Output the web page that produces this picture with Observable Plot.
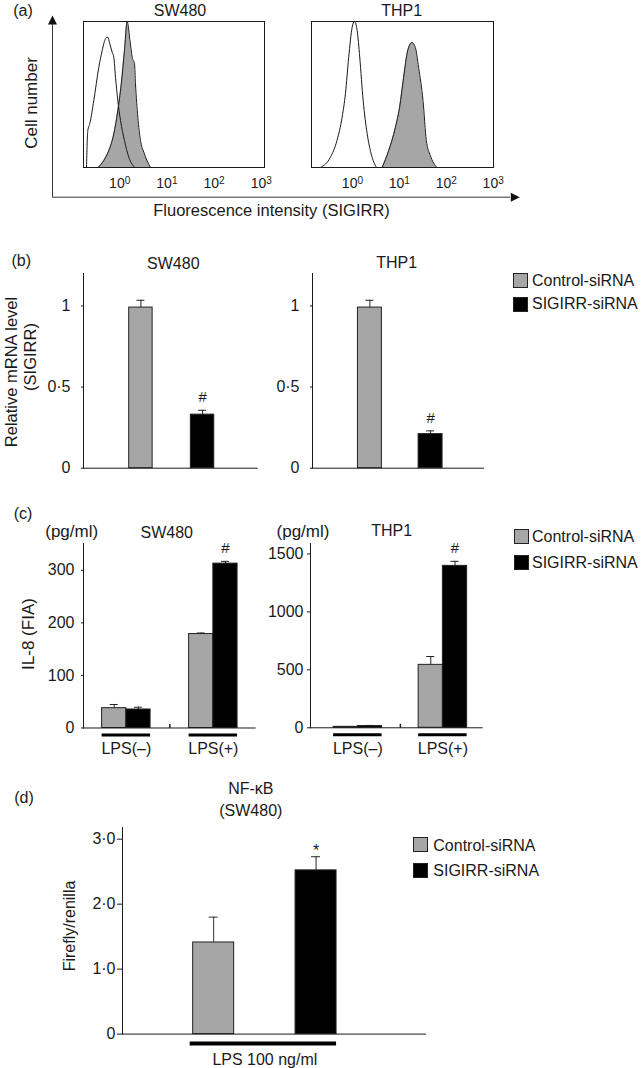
<!DOCTYPE html>
<html><head><meta charset="utf-8">
<script src="https://cdn.jsdelivr.net/npm/d3@7"></script>
<script src="https://cdn.jsdelivr.net/npm/@observablehq/plot@0.6"></script>
<style>
body{margin:0;background:#fff;}
#root{position:relative;width:643px;height:1068px;overflow:hidden;background:#fff;font-family:"Liberation Sans",Arial,Helvetica,sans-serif;color:#1a1a1a;}
.lbl{position:absolute;white-space:nowrap;line-height:1;transform:translate(-50%,-50%);}
.rot{transform:translate(-50%,-50%) rotate(-90deg);}
.sw{position:absolute;box-sizing:border-box;border:1px solid #222;}
.lg{position:absolute;white-space:nowrap;line-height:1;transform:translateY(-50%);font-size:16px;}
</style></head>
<body><div id="root"></div>
<script>
// ---------- DATA ----------
// (a) flow cytometry histograms: fluorescence intensity (SIGIRR) vs relative cell number
const sw480IsoI = [0.198,0.211,0.233,0.283,0.361,0.426,0.500,0.560,0.617,0.693,0.750,0.815,0.912,1.04,1.26,1.56,2.09];
const sw480IsoN = [0,25.3,30.1,45.9,68.7,80.1,88.2,89.2,84.7,79,75.5,61.8,45.9,32.2,18.5,7,0];
const sw480SigI = [0.350,0.460,0.588,0.750,0.912,1.08,1.26,1.44,1.64,1.84,2.06,2.16,2.42,2.76,3.24,4.49];
const sw480SigN = [0,4.8,11.6,23.1,39,57.3,80.1,100,87.7,75.5,71,57.3,34.5,18.5,10.5,0];
const thp1IsoI = [0.209,0.339,0.468,0.603,0.708,0.832,0.986,1.10,1.26,1.43,1.69,2.06,2.50,3.24];
const thp1IsoN = [0,7,18.5,34.5,50.5,75.5,96.1,100,93.8,75.5,45.9,23.1,9.4,0];
const thp1SigI = [4.29,5.92,8.22,10.1,12.3,15.0,18.6,21.9,25.7,31.9,37.5,45.7,63.1];
const thp1SigN = [0,11.6,27.4,41.1,61.6,79.9,85.6,82.2,68.5,45.9,18.5,8.2,0];
const decades = [1, 10, 100, 1000];

// (b) relative mRNA level (SIGIRR)
const siRNA = ["Control-siRNA", "SIGIRR-siRNA"];
const mrnaSW480 = [0.99, 0.33], mrnaSW480Err = [0.045, 0.027], mrnaSW480Mark = ["", "#"];
const mrnaTHP1 = [0.99, 0.21], mrnaTHP1Err = [0.045, 0.02], mrnaTHP1Mark = ["", "#"];
const mrnaTicks = [0, 0.5, 1];

// (c) IL-8 (FIA), pg/ml
const lps = ["LPS(–)", "LPS(+)"];
const il8SW480Ctrl = [37.7, 178.7], il8SW480CtrlErr = [7, 2];
const il8SW480Kd = [35.2, 312.7], il8SW480KdErr = [4.4, 4.3], il8SW480Mark = ["", "#"];
const il8THP1Ctrl = [8, 543], il8THP1CtrlErr = [2, 72];
const il8THP1Kd = [15, 1397], il8THP1KdErr = [5, 39], il8THP1Mark = ["", "#"];
const il8SW480Ticks = [0, 100, 200, 300];
const il8THP1Ticks = [0, 500, 1000, 1500];

// (d) NF-kB luciferase (SW480)
const lpsDose = ["LPS 100 ng/ml"];
const nfkb = [1.41, 2.52], nfkbErr = [0.39, 0.21], nfkbMark = ["", "*"];
const nfkbTicks = [0, 1, 2, 3];

// ---------- STYLE / HELPERS ----------
const FONT = '"Liberation Sans", Arial, Helvetica, sans-serif';
const FILLS = ["#a6a6a6", "#000000"];
const INK = "#1a1a1a";
const root = document.getElementById("root");
const dotFmt = d => String(d).replace(".", "·");
const bandW = (w, n, pi, po) => w / (n - pi + 2 * po) * (1 - pi);
const stepW = (w, n, pi, po) => w / (n - pi + 2 * po);

function label(text, cx, cy, size = 16, rot = false) {
  const d = document.createElement("div");
  d.className = "lbl" + (rot ? " rot" : "");
  d.style.left = cx + "px"; d.style.top = cy + "px"; d.style.fontSize = size + "px";
  d.textContent = text; root.append(d);
}
function legend(x, sqTops, textX, textYs) {
  siRNA.forEach((s, k) => {
    const sq = document.createElement("div"); sq.className = "sw";
    Object.assign(sq.style, {left: x + "px", top: sqTops[k] + "px", width: "15px", height: "15px", background: FILLS[k]});
    root.append(sq);
    const t = document.createElement("div"); t.className = "lg";
    Object.assign(t.style, {left: textX + "px", top: textYs[k] + "px"});
    t.textContent = s; root.append(t);
  });
}
function box(x0, x1, y0, y1, l, r, t, b) {
  return {left: x0 - l, top: y0 - t, width: x1 - x0 + l + r, height: y1 - y0 + t + b, l, r, t, b, w: x1 - x0};
}
function put(b, opts, fontSize = 16) {
  const svg = Plot.plot({
    width: b.width, height: b.height,
    marginLeft: b.l, marginRight: b.r, marginTop: b.t, marginBottom: b.b,
    style: {fontFamily: FONT, fontSize: fontSize + "px", background: "transparent", color: INK, overflow: "visible"},
    ...opts
  });
  svg.style.position = "absolute"; svg.style.left = b.left + "px"; svg.style.top = b.top + "px";
  svg.style.maxWidth = "none";
  root.append(svg);
  return svg;
}
function superscripts(svg) {
  d3.select(svg).selectAll("text").each(function () {
    const m = /^10\^(-?\d+)$/.exec(this.textContent);
    if (m) {
      const s = d3.select(this);
      s.text("10");
      s.append("tspan").attr("dy", "-0.42em").attr("font-size", "0.72em").text(m[1]);
    }
  });
}
const arrowUp = {draw(c) { c.moveTo(0, 0); c.lineTo(4.5, 9); c.lineTo(-4.5, 9); c.closePath(); }};
const arrowRight = {draw(c) { c.moveTo(0, 0); c.lineTo(-9, -4.5); c.lineTo(-9, 4.5); c.closePath(); }};
const vTick = {draw(c) { c.moveTo(0, 0); c.lineTo(0, -4); }};

// ---------- (a) ----------
function histo(b, domain, isoI, isoN, sigI, sigN) {
  const iso = isoI.map((i, k) => ({i, n: isoN[k]}));
  const sig = sigI.map((i, k) => ({i, n: sigN[k]}));
  const svg = put(b, {
    x: {type: "log", domain, ticks: decades, tickFormat: d => "10^" + Math.round(Math.log10(d)), tickSize: 0, tickPadding: 11, label: null},
    y: {domain: [0, 100], axis: null},
    marks: [
      Plot.areaY(sig, {x: "i", y: "n", fill: FILLS[0], curve: "monotone-x"}),
      Plot.lineY(sig, {x: "i", y: "n", stroke: INK, strokeWidth: 1, curve: "monotone-x"}),
      Plot.lineY(iso, {x: "i", y: "n", stroke: INK, strokeWidth: 1, curve: "monotone-x"}),
      Plot.frame({stroke: INK})
    ]
  }, 14);
  superscripts(svg);
}
put(box(52, 519.3, 15, 196.7, 10, 10, 10, 10), {
  x: {domain: [0, 1], axis: null}, y: {domain: [0, 1], axis: null},
  marks: [
    Plot.ruleX([0], {y1: 0, y2: 0.95, stroke: "#333"}),
    Plot.ruleY([0], {x1: 0, x2: 0.98, stroke: "#333"}),
    Plot.dot([[0, 1]], {x: d => d[0], y: d => d[1], symbol: arrowUp, fill: "#111", stroke: "none"}),
    Plot.dot([[1, 0]], {x: d => d[0], y: d => d[1], symbol: arrowRight, fill: "#111", stroke: "none"})
  ]
});
histo(box(83, 264, 21, 167, 10, 12, 6, 34), [0.171, 1169], sw480IsoI, sw480IsoN, sw480SigI, sw480SigN);
histo(box(311, 493, 21, 167, 10, 22, 6, 34), [0.134, 1014], thp1IsoI, thp1IsoN, thp1SigI, thp1SigN);

label("(a)", 23, 10.5, 16);
label("SW480", 180, 11, 16);
label("THP1", 401.7, 11, 16);
label("Cell number", 31, 102.5, 17, true);
label("Fluorescence intensity (SIGIRR)", 271.5, 210, 16.5);

// ---------- (b) ----------
function mrnaPlot(b, vals, errs, marks, pi, po, align) {
  const rows = siRNA.map((s, k) => ({s, v: vals[k], e: errs[k], m: marks[k]}));
  const cap = (bandW(b.w, 2, pi, po) - 8) / 2;
  put(b, {
    x: {type: "band", domain: siRNA, paddingInner: pi, paddingOuter: po, align, round: false, axis: null},
    y: {domain: [0, 1.2], ticks: mrnaTicks, tickFormat: dotFmt, tickSize: 2, tickPadding: 11, line: true, label: null},
    color: {domain: siRNA, range: FILLS},
    marks: [
      Plot.barY(rows, {x: "s", y: "v", fill: "s", stroke: "#222", strokeWidth: 1}),
      Plot.ruleX(rows, {x: "s", y1: "v", y2: d => d.v + d.e, stroke: "#222"}),
      Plot.tickY(rows, {x: "s", y: d => d.v + d.e, stroke: "#222", insetLeft: cap, insetRight: cap}),
      Plot.text(rows, {x: "s", y: d => d.v + d.e, text: "m", dy: -13, fontSize: 15}),
      Plot.ruleY([0], {stroke: INK})
    ]
  });
}
mrnaPlot(box(83.3, 258, 273, 467.7, 75, 10, 10, 10), mrnaSW480, mrnaSW480Err, mrnaSW480Mark, 0.62, 0.727, 0.51);
mrnaPlot(box(312.3, 484.3, 273, 467.7, 40, 10, 10, 10), mrnaTHP1, mrnaTHP1Err, mrnaTHP1Mark, 0.605, 0.72, 0.52);

label("(b)", 21.3, 260.6, 16);
label("SW480", 173.3, 264, 16);
label("THP1", 396.7, 263, 16);
label("Relative mRNA level", 11, 372, 16.5, true);
label("(SIGIRR)", 29.5, 357, 16.5, true);
legend(513.3, [273, 296.7], 532, [280.5, 304]);

// ---------- (c) ----------
function il8Plot(b, yMax, ticks, ctrl, ctrlErr, kd, kdErr, marks, pi, po, align, tickSize, tickPad) {
  const c = lps.map((g, k) => ({g, s: siRNA[0], v: ctrl[k], e: ctrlErr[k]}));
  const s = lps.map((g, k) => ({g, s: siRNA[1], v: kd[k], e: kdErr[k], m: marks[k]}));
  const bw = bandW(b.w, 2, pi, po), step = stepW(b.w, 2, pi, po);
  const half = bw / 2, q = bw / 4, cap = (bw - 8) / 2;
  const top = d => d.v + d.e;
  put(b, {
    x: {type: "band", domain: lps, paddingInner: pi, paddingOuter: po, align, round: false, tickSize: 0, tickPadding: 15, label: null},
    y: {domain: [0, yMax], ticks, tickFormat: d => String(d), tickSize, tickPadding: tickPad, line: true, label: null},
    color: {domain: siRNA, range: FILLS},
    marks: [
      Plot.barY(c, {x: "g", y: "v", fill: "s", stroke: "#222", insetRight: half}),
      Plot.barY(s, {x: "g", y: "v", fill: "s", stroke: "#222", insetLeft: half}),
      Plot.ruleX(c, {x: "g", y1: "v", y2: top, dx: -q, stroke: "#222"}),
      Plot.tickY(c, {x: "g", y: top, dx: -q, stroke: "#222", insetLeft: cap, insetRight: cap}),
      Plot.ruleX(s, {x: "g", y1: "v", y2: top, dx: q, stroke: "#222"}),
      Plot.tickY(s, {x: "g", y: top, dx: q, stroke: "#222", insetLeft: cap, insetRight: cap}),
      Plot.text(s, {x: "g", y: top, dx: q, dy: -13, text: "m", fontSize: 15}),
      Plot.tickY(lps, {x: d => d, y: () => 0, dy: 7, stroke: "#000", strokeWidth: 3}),
      Plot.dot([lps[1]], {x: d => d, y: () => 0, dx: -step / 2, symbol: vTick, stroke: "#222", fill: "none"}),
      Plot.ruleY([0], {stroke: INK})
    ]
  });
}
il8Plot(box(83.3, 256, 543, 727.5, 60, 10, 10, 35), 351, il8SW480Ticks, il8SW480Ctrl, il8SW480CtrlErr, il8SW480Kd, il8SW480KdErr, il8SW480Mark, 0.443, 0.214, 0.5, 2, 7);
il8Plot(box(310, 482.7, 543, 727.3, 45, 10, 10, 35), 1590, il8THP1Ticks, il8THP1Ctrl, il8THP1CtrlErr, il8THP1Kd, il8THP1KdErr, il8THP1Mark, 0.43, 0.23, 0.59, 3, 4);

label("(c)", 23, 514, 16);
label("(pg/ml)", 71.7, 530.8, 17);
label("SW480", 166.7, 533, 16);
label("(pg/ml)", 303, 530.8, 17);
label("THP1", 391.7, 531, 16);
label("IL-8 (FIA)", 27.5, 634, 17, true);
legend(514.3, [529.3, 555], 532, [536.7, 562.5]);

// ---------- (d) ----------
(function () {
  const b = box(121.7, 425.7, 826.7, 1033.3, 60, 10, 10, 40);
  const po = 0.56, align = 0.44;
  const bw = bandW(b.w, 1, 0, po);
  const barW = 41, off = bw / 2 - barW / 2, cap = (bw - 9) / 2;
  const c = [{g: lpsDose[0], s: siRNA[0], v: nfkb[0], e: nfkbErr[0], m: nfkbMark[0]}];
  const s = [{g: lpsDose[0], s: siRNA[1], v: nfkb[1], e: nfkbErr[1], m: nfkbMark[1]}];
  const top = d => d.v + d.e;
  put(b, {
    x: {type: "band", domain: lpsDose, paddingInner: 0, paddingOuter: po, align, round: false, tickSize: 0, tickPadding: 19.5, label: null},
    y: {domain: [0, 3.18], ticks: nfkbTicks, tickFormat: d => d === 0 ? "0" : dotFmt(d.toFixed(1)), tickSize: 5, tickPadding: 2, line: true, label: null},
    color: {domain: siRNA, range: FILLS},
    marks: [
      Plot.barY(c, {x: "g", y: "v", fill: "s", stroke: "#222", insetRight: bw - barW}),
      Plot.barY(s, {x: "g", y: "v", fill: "s", stroke: "#222", insetLeft: bw - barW}),
      Plot.ruleX(c, {x: "g", y1: "v", y2: top, dx: -off, stroke: "#333"}),
      Plot.tickY(c, {x: "g", y: top, dx: -off, stroke: "#333", insetLeft: cap, insetRight: cap}),
      Plot.ruleX(s, {x: "g", y1: "v", y2: top, dx: off, stroke: "#222"}),
      Plot.tickY(s, {x: "g", y: top, dx: off, stroke: "#222", insetLeft: cap, insetRight: cap}),
      Plot.text(s, {x: "g", y: top, dx: off, dy: -6, text: "m", fontSize: 16}),
      Plot.tickY(lpsDose, {x: d => d, y: () => 0, dy: 9.5, stroke: "#000", strokeWidth: 4, insetLeft: -3}),
      Plot.ruleY([0], {stroke: INK})
    ]
  });
})();

label("(d)", 24, 797.5, 16);
label("NF-κB", 250.8, 789, 16);
label("(SW480)", 250.8, 811, 16);
label("Firefly/renilla", 70, 926, 16, true);
legend(413.3, [837.3, 863.3], 433.3, [845.6, 871]);
</script>
</body></html>
